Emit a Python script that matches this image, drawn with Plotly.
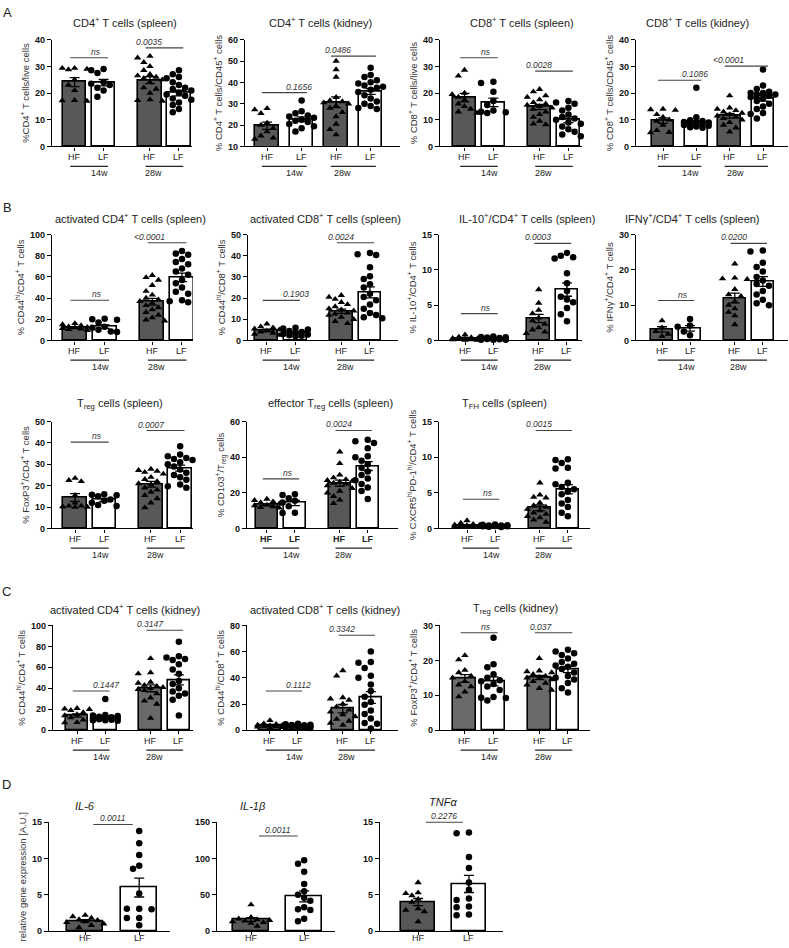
import plotly.graph_objects as go
import numpy as np

W, H = 789, 948
FONT = "Arial, 'Liberation Sans', Helvetica, sans-serif"

# ---------------- DATA ----------------
groups4 = ["HF", "LF", "HF", "LF"]
groups2 = ["HF", "LF"]
ages = ["14w", "28w"]

# A1 CD4+ T cells (spleen)
a1_hf14 = [29.3, 29.0, 29.3, 28.8, 25, 23, 21, 17.2, 17.3, 17.0]
a1_lf14 = [29.0, 28.5, 27.5, 24, 23.5, 23, 22, 21, 18.6]
a1_hf28 = [33.8, 33.2, 31.5, 30, 28.5, 27, 26.5, 26, 25.5, 25, 24, 22, 21.5, 20, 17.5, 17.3, 17.0]
a1_lf28 = [28.5, 27, 26, 25.5, 24, 23, 22, 21.5, 21, 20, 19.5, 19, 18, 17.5, 16.5, 15.5, 14, 12.8]
a1_means = [24.1, 23.9, 24.8, 20.0]
a1_sig = ["ns", "0.0035"]

# A2 CD4+ T cells (kidney)
a2_hf14 = [27.8, 27.2, 25.5, 21, 20, 18.5, 17, 15, 14, 13.5]
a2_lf14 = [31.5, 26.5, 25.5, 24.5, 24, 23.5, 22.5, 22, 21.5, 20.5, 19.5, 18.5, 17]
a2_hf28 = [50, 46, 42.5, 33, 31.5, 31, 30.5, 30, 29, 28, 26, 24, 20.5, 18, 15.5]
a2_lf28 = [46.8, 43.5, 42.5, 41, 40, 39.5, 38.5, 38, 37.5, 36.5, 35.5, 34, 32.5, 31, 30, 29, 28, 27.5]
a2_means = [19.7, 22.8, 30.7, 35.7]
a2_sig = ["0.1656", "0.0486"]

# A3 CD8+ T cells (spleen)
a3_hf14 = [28.6, 26.4, 20, 19.5, 18.5, 17.5, 16, 15, 14, 13, 12.5]
a3_lf14 = [24.2, 23.8, 20.5, 17, 15.5, 13.5, 13, 12.8, 12.5]
a3_hf28 = [21.4, 20.5, 19, 18.5, 17.5, 16.5, 16, 15.5, 15, 14.5, 14, 13, 12, 11, 9.5, 8.5, 8.2]
a3_lf28 = [17, 16.5, 16, 14.5, 13.5, 12, 11, 10.5, 10, 9, 8.5, 7.5, 6.5, 5.5, 4.5, 3.8]
a3_means = [18.3, 16.5, 14.8, 10.0]
a3_sig = ["ns", "0.0028"]

# A4 CD8+ T cells (kidney)
a4_hf14 = [14, 13.8, 13.6, 12, 11, 10, 9.5, 8, 6, 5.3, 5.2]
a4_lf14 = [22, 10.9, 9.8, 9.5, 9.2, 9, 8.8, 8.5, 8.2, 8, 7.8, 7.5, 7.2, 7]
a4_hf28 = [19, 14.5, 14, 13.5, 13, 12.5, 12, 11.5, 11, 10.5, 10, 9, 8, 7, 5.5]
a4_lf28 = [28.8, 22.8, 21.5, 20.5, 20, 20, 19.5, 19.5, 19, 18.5, 18, 17, 16, 15, 14, 12.5, 12.2, 10.5]
a4_means = [9.7, 8.8, 11.5, 18.0]
a4_sig = ["0.1086", "<0.0001"]

# B1 activated CD4+ T cells (spleen)
b1_hf14 = [16, 15, 14, 13, 12.5, 12, 11.5, 11, 10.5, 9.5]
b1_lf14 = [20.5, 20, 19.5, 17, 13, 12, 10, 8.5, 8]
b1_hf28 = [61.5, 59.5, 57, 52, 46.5, 43, 40, 38.5, 37, 35.5, 33, 31, 29, 26.5, 24, 21.5, 19.5, 18.5]
b1_lf28 = [84.5, 82, 81, 77, 74, 72, 68, 65, 62, 57, 54, 50, 46, 44, 38, 37, 36]
b1_means = [12.1, 13.0, 36.5, 59.5]
b1_sig = ["ns", "<0.0001"]

# B2 activated CD8+ T cells (spleen)
b2_hf14 = [7.8, 6.5, 6, 5.5, 5, 4.5, 4, 3.5, 3, 2.5]
b2_lf14 = [6, 5.6, 5.2, 4.5, 4, 3.5, 3, 2.8, 2.4, 2.2, 2]
b2_hf28 = [21.3, 20.5, 19.5, 18, 17, 16, 15, 14.5, 14, 13, 12.5, 12, 11, 10, 9, 8]
b2_lf28 = [41.3, 40.7, 40.3, 34.5, 30.3, 29, 26.5, 25, 22, 20.5, 19, 17, 15, 13, 12, 11, 10.5]
b2_means = [4.8, 3.8, 13.8, 22.7]
b2_sig = ["0.1903", "0.0024"]

# B3 IL-10+/CD4+ T cells (spleen)
b3_hf14 = [0.8, 0.5, 0.4, 0.3, 0.25, 0.2, 0.15, 0.1, 0.1, 0.05, 0.05]
b3_lf14 = [0.55, 0.5, 0.45, 0.4, 0.35, 0.3, 0.25, 0.2, 0.2, 0.15, 0.1, 0.1, 0.1]
b3_hf28 = [7.2, 5.3, 4.3, 3.8, 3.2, 2.8, 2.3, 1.8, 1.5, 1.2, 1.0]
b3_lf28 = [12.4, 12.0, 11.8, 11.6, 9.5, 8.1, 7.0, 6.2, 5.8, 5.4, 4.6, 3.7, 2.7]
b3_means = [0.2, 0.25, 3.1, 7.2]
b3_sig = ["ns", "0.0003"]

# B4 IFNg+/CD4+ T cells (spleen)
b4_hf14 = [5.6, 3.6, 2.6, 1.8, 1.2]
b4_lf14 = [6.1, 4.2, 3.9, 2.5, 1.5]
b4_hf28 = [21.7, 17.7, 17.3, 17.5, 14.5, 13, 12.5, 11, 10, 9, 8, 7, 4.5]
b4_lf28 = [25.5, 25.2, 22, 20.8, 19.5, 18, 17, 16, 15.5, 14, 13, 11.5, 10.5, 10]
b4_means = [3.1, 3.4, 12.0, 16.7]
b4_sig = ["ns", "0.0200"]

# B5 Treg cells (spleen)
b5_hf14 = [23.5, 22.5, 22, 15.5, 12, 10.5, 10.5, 10.2, 10, 10]
b5_lf14 = [16, 15.8, 15.5, 15, 13.5, 13, 12, 11, 10.5]
b5_hf28 = [27.8, 27.2, 26.8, 26.3, 25.5, 24, 23, 22, 21, 20.5, 19, 18, 17, 15.5, 14, 12, 9.7]
b5_lf28 = [38.4, 34.6, 33.8, 33, 32.5, 32, 31, 30, 29, 27.6, 26, 25, 24, 22.8, 20.5, 19.7, 19]
b5_means = [14.5, 13.3, 20.7, 28.2]
b5_sig = ["ns", "0.0007"]

# B6 effector Treg cells (spleen)
b6_hf14 = [16.5, 15.8, 15, 14.5, 13.8, 13.2, 12.8, 12.3, 11.8, 11.5]
b6_lf14 = [19.2, 18.7, 17, 15.5, 14.5, 12.5, 8.8, 8.7]
b6_hf28 = [43, 36.5, 30, 28.5, 27.5, 27, 26.5, 26, 25.5, 25, 24, 22.5, 21, 20, 18, 16, 14]
b6_lf28 = [49.8, 49, 48, 45, 40.5, 40, 38, 36, 34, 32, 30, 28, 27, 25, 23, 21, 16.5]
b6_means = [13.4, 14.3, 25.4, 35.0]
b6_sig = ["ns", "0.0024"]

# B7 TFH cells (spleen)
b7_hf14 = [1.1, 0.75, 0.6, 0.5, 0.45, 0.4, 0.35, 0.3, 0.25, 0.2]
b7_lf14 = [0.55, 0.5, 0.45, 0.4, 0.4, 0.35, 0.3, 0.3, 0.25, 0.2]
b7_hf28 = [6.4, 4.7, 4.4, 4.3, 3.6, 3.2, 3.0, 2.7, 2.5, 2.2, 2.0, 1.7, 1.5, 1.2, 0.9]
b7_lf28 = [9.7, 9.6, 9.2, 8.5, 8.4, 6.4, 6.2, 5.8, 5.5, 5.2, 4.8, 4.0, 3.5, 3.0, 2.2, 1.7]
b7_means = [0.4, 0.35, 2.9, 5.5]
b7_sig = ["ns", "0.0015"]

# C1 activated CD4+ T cells (kidney)
c1_hf14 = [21, 20.5, 20, 19, 17, 15, 14, 12, 10, 7.5, 7.2]
c1_lf14 = [29.7, 14.5, 14, 13.5, 13, 12.5, 12, 11.5, 11, 10.5, 10, 9.5, 9.5, 9]
c1_hf28 = [68.5, 55, 54, 46, 45, 43, 42, 41, 40, 39, 38, 35, 31, 28, 25, 11.5]
c1_lf28 = [84.5, 70.5, 69.5, 68, 67, 63, 58, 54, 47, 44, 40, 37, 35, 33, 29, 14]
c1_means = [14.0, 12.3, 40.0, 48.0]
c1_sig = ["0.1447", "0.3147"]

# C2 activated CD8+ T cells (kidney)
c2_hf14 = [7.5, 5, 4.5, 4, 3.8, 3.5, 3, 2.8, 2.5, 2.2, 2]
c2_lf14 = [5, 4.5, 4.2, 4, 3.8, 3.5, 3.2, 3, 2.8, 2.5, 2.2, 2, 1.8]
c2_hf28 = [45.5, 41.5, 25, 24, 23, 20, 18, 15.5, 14, 12, 10.5, 8.5, 7, 5.5, 4]
c2_lf28 = [60, 52, 51.5, 47.5, 41.5, 40, 35, 30, 25.5, 21.5, 19.5, 15, 12.5, 9, 5.5, 5, 1.3]
c2_means = [3.5, 3.2, 16.5, 25.0]
c2_sig = ["0.1112", "0.3342"]

# C3 Treg cells (kidney)
c3_hf14 = [21.4, 20.2, 17.2, 16.5, 15.5, 15, 14, 13, 12.5, 11, 9.6]
c3_lf14 = [26.5, 18.9, 18, 16, 15, 14.3, 14, 13.2, 12.5, 11.5, 9.5, 9.3, 9.2, 8.5]
c3_hf28 = [20.6, 17, 16.8, 16.5, 16, 15.5, 15.2, 15, 14.5, 14, 13.5, 13, 12, 11.5]
c3_lf28 = [23, 22.5, 22, 21.5, 20.5, 19.5, 19, 18.5, 18.2, 17.5, 16.5, 15.5, 15, 14.5, 13.5, 12, 10.8]
c3_means = [14.8, 14.0, 15.1, 17.4]
c3_sig = ["ns", "0.037"]

# D gene expression
d1_hf = [2.2, 2.0, 1.8, 1.6, 1.5, 1.3, 1.2, 1.0, 0.8, 0.5]
d1_lf = [13.8, 12.1, 10.5, 9.0, 8.6, 5.2, 3.1, 3.1, 3.0, 1.8, 1.8, 0.8]
d1_means = [1.4, 6.0]
d1_sig = ["0.0011"]

d2_hf = [36.4, 19, 17, 16, 15, 14, 13, 12, 11, 6.8]
d2_lf = [97.7, 93, 81.8, 65, 55, 50, 46, 42, 33, 30, 29, 17, 13.5]
d2_means = [16.0, 48.0]
d2_sig = ["0.0011"]

d3_hf = [6.7, 5.3, 5.2, 4.9, 4.4, 4.0, 3.1, 2.9, 2.7, 1.3]
d3_lf = [13.6, 13.5, 10.2, 8.7, 6.7, 5.7, 4.5, 4.3, 3.4, 3.3, 2.3, 2.2]
d3_means = [4.0, 6.5]
d3_sig = ["0.2276"]

# ---------------- LAYOUT CONSTANTS ----------------
SPLEEN = [0, 1, 2.6, 3.6]
EVEN = [0, 1, 2, 3]
DPOS = [0, 1]
HFC = "#585858"
HFC_C = "#6a6a6a"

# py: plot top/bottom px; ty: title y; lab: HF/LF label offset; gl: group line / group text offsets
ROW_A = dict(py=(35, 143), ty=17, lab=11, gl=(20, 27))
ROW_B1 = dict(py=(232, 339), ty=215, lab=11, gl=(20, 27))
ROW_B2 = dict(py=(421, 529), ty=403, lab=11, gl=(20, 27))
ROW_C = dict(py=(627, 733), ty=610, lab=11, gl=(20, 27))
ROW_D = dict(py=(826, 936), ty=810, lab=7, gl=None)

sup = lambda s: f"<sup>{s}</sup>"
panels = [
    dict(row=ROW_A, px=(52, 192), xr=(-0.78, 4.05), pos=SPLEEN, bw=0.8, yr=(0, 40), dt=10, tx=125,
         title=f"CD4{sup('+')} T cells (spleen)", ytitle=f"%CD4{sup('+')} T cells/live cells",
         data=[a1_hf14, a1_lf14, a1_hf28, a1_lf28], means=a1_means, sig=a1_sig, sigy=[33.2, 36.9]),
    dict(row=ROW_A, px=(245, 400), xr=(-0.64, 3.85), pos=EVEN, bw=0.68, yr=(10, 60), dt=10, tx=320,
         title=f"CD4{sup('+')} T cells (kidney)", ytitle=f"% CD4{sup('+')} T cells/CD45{sup('+')} cells",
         data=[a2_hf14, a2_lf14, a2_hf28, a2_lf28], means=a2_means, sig=a2_sig, sigy=[35.2, 52.3]),
    dict(row=ROW_A, px=(440, 582), xr=(-0.85, 4.07), pos=SPLEEN, bw=0.8, yr=(0, 40), dt=10, tx=522,
         title=f"CD8{sup('+')} T cells (spleen)", ytitle=f"% CD8{sup('+')} T cells/live cells",
         data=[a3_hf14, a3_lf14, a3_hf28, a3_lf28], means=a3_means, sig=a3_sig, sigy=[33.2, 28.2]),
    dict(row=ROW_A, px=(636, 788), xr=(-0.81, 3.75), pos=EVEN, bw=0.68, yr=(0, 40), dt=10, tx=697,
         title=f"CD8{sup('+')} T cells (kidney)", ytitle=f"% CD8{sup('+')} T cells/CD45{sup('+')} cells",
         data=[a4_hf14, a4_lf14, a4_hf28, a4_lf28], means=a4_means, sig=a4_sig, sigy=[24.8, 30.1]),
    dict(row=ROW_B1, px=(52, 193), xr=(-0.77, 3.97), pos=SPLEEN, bw=0.8, yr=(0, 100), dt=20, tx=130,
         title=f"activated CD4{sup('+')} T cells (spleen)", ytitle=f"% CD44{sup('hi')}/CD4{sup('+')} T cells",
         data=[b1_hf14, b1_lf14, b1_hf28, b1_lf28], means=b1_means, sig=b1_sig, sigy=[37.9, 92.2]),
    dict(row=ROW_B1, px=(248, 398), xr=(-0.66, 4.58), pos=SPLEEN, bw=0.8, yr=(0, 50), dt=10, tx=325,
         title=f"activated CD8{sup('+')} T cells (spleen)", ytitle=f"% CD44{sup('hi')}/CD8{sup('+')} T cells",
         data=[b2_hf14, b2_lf14, b2_hf28, b2_lf28], means=b2_means, sig=b2_sig, sigy=[18.9, 46.1]),
    dict(row=ROW_B1, px=(439, 582), xr=(-0.92, 4.13), pos=SPLEEN, bw=0.8, yr=(0, 15), dt=5, tx=527,
         title=f"IL-10{sup('+')}/CD4{sup('+')} T cells (spleen)", ytitle=f"% IL-10{sup('+')}/CD4{sup('+')} T cells",
         data=[b3_hf14, b3_lf14, b3_hf28, b3_lf28], means=b3_means, sig=b3_sig, sigy=[3.8, 13.75]),
    dict(row=ROW_B1, px=(636, 788), xr=(-0.93, 4.5), pos=SPLEEN, bw=0.8, yr=(0, 30), dt=10, tx=692,
         title=f"IFNγ{sup('+')}/CD4{sup('+')} T cells (spleen)", ytitle=f"% IFNγ{sup('+')}/CD4{sup('+')} T cells",
         data=[b4_hf14, b4_lf14, b4_hf28, b4_lf28], means=b4_means, sig=b4_sig, sigy=[11.3, 27.5]),
    dict(row=ROW_B2, px=(52, 193), xr=(-0.79, 4.04), pos=SPLEEN, bw=0.8, yr=(0, 50), dt=10, tx=120,
         title="T<sub>reg</sub> cells (spleen)", ytitle=f"% FoxP3{sup('+')}/CD4{sup('+')} T cells",
         data=[b5_hf14, b5_lf14, b5_hf28, b5_lf28], means=b5_means, sig=b5_sig, sigy=[40.4, 45.8]),
    dict(row=ROW_B2, px=(247, 398), xr=(-0.71, 4.68), pos=SPLEEN, bw=0.8, yr=(0, 60), dt=20, tx=330, boldx=True,
         title="effector T<sub>reg</sub> cells (spleen)", ytitle=f"% CD103{sup('+')}/T<sub>reg</sub> cells",
         data=[b6_hf14, b6_lf14, b6_hf28, b6_lf28], means=b6_means, sig=b6_sig, sigy=[27.8, 55.0]),
    dict(row=ROW_B2, px=(439, 590), xr=(-1.0, 4.39), pos=SPLEEN, bw=0.8, yr=(0, 15), dt=5, tx=505,
         title="T<sub>FH</sub> cells (spleen)", ytitle=f"% CXCR5{sup('hi')}PD-1{sup('hi')}/CD4{sup('+')} T cells",
         data=[b7_hf14, b7_lf14, b7_hf28, b7_lf28], means=b7_means, sig=b7_sig, sigy=[4.1, 13.75]),
    dict(row=ROW_C, px=(53, 193), xr=(-0.85, 4.1), pos=SPLEEN, bw=0.8, yr=(0, 100), dt=20, tx=125, hfc=HFC_C,
         title=f"activated CD4{sup('+')} T cells (kidney)", ytitle=f"% CD44{sup('hi')}/CD4{sup('+')} T cells",
         data=[c1_hf14, c1_lf14, c1_hf28, c1_lf28], means=c1_means, sig=c1_sig, sigy=[37.5, 95.3]),
    dict(row=ROW_C, px=(247, 398), xr=(-0.82, 4.57), pos=SPLEEN, bw=0.8, yr=(0, 80), dt=20, tx=325, hfc=HFC_C,
         title=f"activated CD8{sup('+')} T cells (kidney)", ytitle=f"% CD44{sup('hi')}/CD8{sup('+')} T cells",
         data=[c2_hf14, c2_lf14, c2_hf28, c2_lf28], means=c2_means, sig=c2_sig, sigy=[30.0, 72.5]),
    dict(row=ROW_C, px=(440, 590), xr=(-0.87, 4.37), pos=SPLEEN, bw=0.8, yr=(0, 30), dt=10, tx=515, hfc=HFC_C,
         title="T<sub>reg</sub> cells (kidney)", ytitle=f"% FoxP3{sup('+')}/CD4{sup('+')} T cells",
         data=[c3_hf14, c3_lf14, c3_hf28, c3_lf28], means=c3_means, sig=c3_sig, sigy=[27.9, 27.9]),
    dict(row=ROW_D, px=(49, 170), xr=(-0.67, 1.57), pos=DPOS, bw=0.67, yr=(0, 15), dt=5, tx=85,
         title="<i>IL-6</i>", ytitle="relative gene expression [A.U.]",
         data=[d1_hf, d1_lf], means=d1_means, sig=d1_sig, sigy=[14.7]),
    dict(row=ROW_D, px=(217, 335), xr=(-0.64, 1.58), pos=DPOS, bw=0.67, yr=(0, 150), dt=50, tx=253,
         title="<i>IL-1β</i>", ytitle="",
         data=[d2_hf, d2_lf], means=d2_means, sig=d2_sig, sigy=[131]),
    dict(row=ROW_D, px=(380, 503), xr=(-0.75, 1.67), pos=DPOS, bw=0.67, yr=(0, 15), dt=5, tx=443, ty=806,
         title="<i>TNFα</i>", ytitle="",
         data=[d3_hf, d3_lf], means=d3_means, sig=d3_sig, sigy=[15]),
]


def swarm(vals, y0, y1, hpx, upx, half_units, dmark=6.5):
    order = sorted(range(len(vals)), key=lambda i: -vals[i])
    step = dmark * 0.95
    maxpx = half_units * upx
    cands = [0.0]
    k = 1
    while k * step <= maxpx:
        cands += [-k * step, k * step]
        k += 1
    placed = []
    offs = [0.0] * len(vals)
    for i in order:
        ypx = (vals[i] - y0) / (y1 - y0) * hpx
        best, bestov = 0.0, 1e9
        for c in cands:
            ov = 0.0
            for (px, py) in placed:
                d = ((px - c) ** 2 + (py - ypx) ** 2) ** 0.5
                if d < dmark:
                    ov += dmark - d
            if ov == 0:
                best = c
                break
            if ov < bestov:
                bestov, best = ov, c
        placed.append((best, ypx))
        offs[i] = best / upx
    return offs


fig = go.Figure()
shapes, annos = [], []
layout_axes = {}

for k, p in enumerate(panels):
    n = k + 1
    xa = "x" if n == 1 else f"x{n}"
    ya = "y" if n == 1 else f"y{n}"
    xname = "xaxis" if n == 1 else f"xaxis{n}"
    yname = "yaxis" if n == 1 else f"yaxis{n}"
    row = p["row"]
    x0p, x1p = p["px"]
    y0p, y1p = row["py"]
    wpx, hpx = x1p - x0p, y1p - y0p
    xr, yr, pos = p["xr"], p["yr"], p["pos"]
    upx = wpx / (xr[1] - xr[0])
    hfc = p.get("hfc", HFC)
    data = p["data"]
    sems = [float(np.std(g, ddof=1) / np.sqrt(len(g))) for g in data]
    colors = [hfc if i % 2 == 0 else "white" for i in range(len(data))]

    fig.add_trace(go.Bar(
        x=pos, y=p["means"], width=p["bw"], xaxis=xa, yaxis=ya, showlegend=False,
        marker=dict(color=colors, line=dict(color="black", width=1.6)),
        error_y=dict(type="data", array=sems, color="black", thickness=1.3, width=5),
        hoverinfo="skip"))
    for i, g in enumerate(data):
        offs = swarm(g, yr[0], yr[1], hpx, upx, p["bw"] / 2 + 0.05)
        tri = (i % 2 == 0)
        fig.add_trace(go.Scatter(
            x=[pos[i] + o for o in offs], y=g, mode="markers", xaxis=xa, yaxis=ya,
            showlegend=False, cliponaxis=False,
            marker=dict(symbol="triangle-up" if tri else "circle", size=6.5,
                        color="black", line=dict(width=0))))

    labels = groups4 if len(pos) == 4 else groups2
    yt = list(np.arange(yr[0], yr[1] + p["dt"] / 2, p["dt"]))
    layout_axes[xname] = dict(
        domain=[x0p / W, x1p / W], range=list(xr), anchor=ya,
        tickmode="array", tickvals=pos, showticklabels=False, ticks="outside", ticklen=3,
        tickwidth=1.2, tickcolor="black", showline=True, linewidth=1.4, linecolor="black",
        showgrid=False, zeroline=False, fixedrange=True)
    layout_axes[yname] = dict(
        domain=[1 - y1p / H, 1 - y0p / H], range=list(yr), anchor=xa,
        tickmode="array", tickvals=yt, ticktext=[f"<b>{v:g}</b>" for v in yt],
        ticks="outside", ticklen=4, tickwidth=1.2, tickcolor="black",
        showline=True, linewidth=1.4, linecolor="black", showgrid=False, zeroline=False,
        tickfont=dict(family=FONT, size=9, color="#111"),
        title=dict(text=p["ytitle"], font=dict(family=FONT, size=9.5, color="#333"), standoff=3),
        fixedrange=True)

    def dfx(v):
        return (v - xr[0]) / (xr[1] - xr[0])

    def dfy(v):
        return (v - yr[0]) / (yr[1] - yr[0])

    xd, yd = f"{xa} domain", f"{ya} domain"

    # HF / LF labels under each bar
    for xv, lab in zip(pos, labels):
        txt = f"<b>{lab}</b>" if p.get("boldx") else lab
        annos.append(dict(xref=xd, yref=yd, x=dfx(xv), y=-row["lab"] / hpx, text=txt,
                          showarrow=False, yanchor="middle", xanchor="center",
                          font=dict(family=FONT, size=9, color="#222")))

    # pairs for significance / group lines
    if len(pos) == 4:
        pairs = [(pos[0] - 0.15, pos[1] + 0.15), (pos[2] - 0.15, pos[3] + 0.15)]
    else:
        pairs = [(0.15, 0.88)]

    for (a, b), txt, sy in zip(pairs, p["sig"], p["sigy"]):
        shapes.append(dict(type="line", xref=xd, yref=yd, x0=dfx(a), x1=dfx(b),
                           y0=dfy(sy), y1=dfy(sy), line=dict(color="#444", width=1.1)))
        annos.append(dict(xref=xd, yref=yd, x=dfx((a + b) / 2), y=dfy(sy), text=f"<i>{txt}</i>",
                          showarrow=False, yanchor="bottom", yshift=-1,
                          font=dict(family=FONT, size=8.5, color="#333")))

    if row["gl"] is not None:
        gl_off, gt_off = row["gl"]
        for (a, b), age in zip(pairs, ages):
            shapes.append(dict(type="line", xref=xd, yref=yd, x0=dfx(a), x1=dfx(b),
                               y0=-gl_off / hpx, y1=-gl_off / hpx, line=dict(color="#222", width=1.2)))
            annos.append(dict(xref=xd, yref=yd, x=dfx((a + b) / 2), y=-gt_off / hpx, text=age,
                              showarrow=False, yanchor="middle",
                              font=dict(family=FONT, size=9, color="#222")))

    # panel title
    annos.append(dict(xref="paper", yref="paper", x=p["tx"] / W, y=1 - p.get("ty", row["ty"]) / H,
                      text=p["title"], showarrow=False, xanchor="center", yanchor="middle",
                      font=dict(family=FONT, size=11, color="#222")))

for letter, (lx, ly) in {"A": (8, 8), "B": (8, 205), "C": (6, 593), "D": (6, 788)}.items():
    annos.append(dict(xref="paper", yref="paper", x=lx / W, y=1 - ly / H, text=letter,
                      showarrow=False, xanchor="center", yanchor="middle",
                      font=dict(family=FONT, size=13, color="#222")))

fig.update_layout(
    width=W, height=H, autosize=False, margin=dict(l=0, r=0, t=0, b=0),
    paper_bgcolor="white", plot_bgcolor="white", showlegend=False,
    font=dict(family=FONT), shapes=shapes, annotations=annos, bargap=0, **layout_axes)

fig.write_html("out.html", config={"displayModeBar": False},
               post_script="document.body.style.margin='0px';document.body.style.padding='0px';"
                           "document.body.style.overflow='hidden';")
